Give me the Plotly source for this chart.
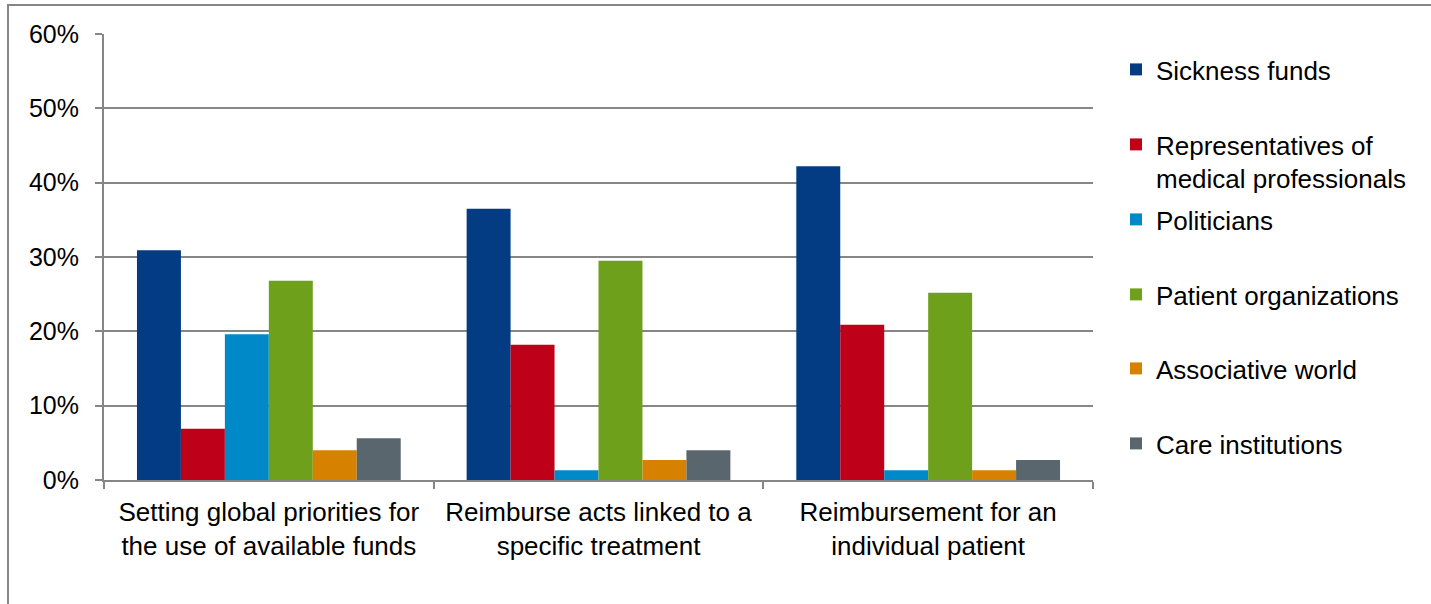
import plotly.graph_objects as go

categories = [
    "Setting global priorities for<br>the use of available funds",
    "Reimburse acts linked to a<br>specific treatment",
    "Reimbursement for an<br>individual patient",
]

series_names = [
    "Sickness funds",
    "Representatives of<br>medical professionals",
    "Politicians",
    "Patient organizations",
    "Associative world",
    "Care institutions",
]

sickness_funds = [0.309, 0.365, 0.422]
medical_professionals = [0.069, 0.182, 0.209]
politicians = [0.196, 0.013, 0.013]
patient_organizations = [0.268, 0.295, 0.252]
associative_world = [0.040, 0.027, 0.013]
care_institutions = [0.056, 0.040, 0.027]

series_values = [
    sickness_funds,
    medical_professionals,
    politicians,
    patient_organizations,
    associative_world,
    care_institutions,
]

colors = ["#033C82", "#BE0019", "#0089C9", "#6EA01C", "#D68200", "#5A666D"]

FONT = "Liberation Sans, Arial, sans-serif"
GREY = "#868686"

# plot area geometry (pixels) used for placing legends and the frame
W, H = 1431, 604
L, R, T, B = 104, 338, 34, 124
PW, PH = W - L - R, H - T - B


def px_x(x):
    return (x - L) / PW


def px_y(y):
    return (H - B - y) / PH


# each legend entry is positioned on its own (top y of the entry, in px)
legend_tops = [46, 121, 196, 271, 345, 420]

fig = go.Figure()
legend_ids = ["legend", "legend2", "legend3", "legend4", "legend5", "legend6"]
for name, vals, col, lid in zip(series_names, series_values, colors, legend_ids):
    fig.add_trace(go.Bar(
        x=categories, y=vals, name=name,
        marker=dict(color=col, line=dict(width=0)),
        legend=lid,
    ))

legend_layout = {}
for lid, top in zip(legend_ids, legend_tops):
    legend_layout[lid] = dict(
        x=px_x(1116), xanchor="left",
        y=px_y(top), yanchor="top",
        font=dict(family=FONT, size=26, color="#000000"),
        bgcolor="rgba(0,0,0,0)", borderwidth=0,
        valign="top", itemclick=False, itemdoubleclick=False,
    )

fig.update_layout(
    width=W, height=H,
    margin=dict(l=L, r=R, t=T, b=B, pad=0),
    paper_bgcolor="white", plot_bgcolor="white",
    barmode="group", bargap=0.2, bargroupgap=0,
    font=dict(family=FONT, size=26, color="#000000"),
    showlegend=True,
    **legend_layout,
    xaxis=dict(
        showline=True, linecolor=GREY, linewidth=2,
        ticks="outside", tickson="boundaries", ticklen=7,
        tickcolor=GREY, tickwidth=2,
        showgrid=False,
        ticklabelstandoff=8,
        tickfont=dict(family=FONT, size=26, color="#000000"),
        fixedrange=True,
    ),
    yaxis=dict(
        range=[0, 0.6], dtick=0.1, tickformat=".0%",
        showline=True, linecolor=GREY, linewidth=2,
        ticks="outside", ticklen=7, tickcolor=GREY, tickwidth=2,
        showgrid=True, gridcolor=GREY, gridwidth=1.5,
        zeroline=False,
        ticklabelstandoff=11,
        tickfont=dict(family=FONT, size=25, color="#000000"),
        fixedrange=True,
    ),
    shapes=[dict(
        type="rect", xref="paper", yref="paper",
        x0=px_x(8), x1=px_x(W + 20), y0=px_y(H + 20), y1=px_y(5),
        line=dict(color=GREY, width=2), fillcolor="rgba(0,0,0,0)",
        layer="below",
    )],
)

fig.write_html("out.html")
